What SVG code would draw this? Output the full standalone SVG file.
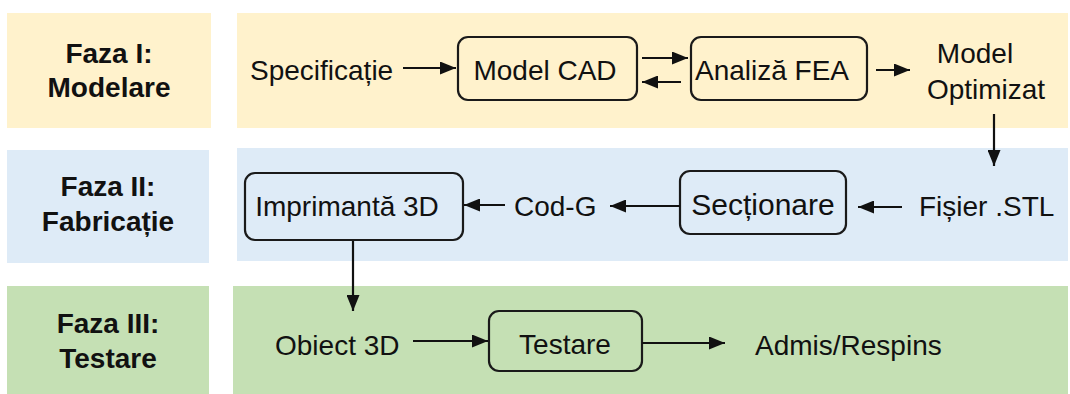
<svg xmlns="http://www.w3.org/2000/svg" width="1070" height="394" viewBox="0 0 1070 394">
<defs>
<style>
.lbl{font-family:"Liberation Sans",Arial,sans-serif;font-weight:bold;font-size:28px;fill:#111;text-anchor:middle}
.t{font-family:"Liberation Sans",Arial,sans-serif;font-size:28px;fill:#111}
.m{text-anchor:middle}
.box{fill:none;stroke:#1a1a1a;stroke-width:2.2}
.c line{stroke:#111;stroke-width:2.2;marker-end:url(#ah)}
.y{fill:#FFF2CC}.b{fill:#DEEBF7}.g{fill:#C5E0B4}
</style>
<marker id="ah" viewBox="0 0 16 13" markerWidth="16" markerHeight="13" refX="16" refY="6.5" orient="auto" markerUnits="userSpaceOnUse">
<path d="M0,0 L16,6.5 L0,13 Z" fill="#111"/>
</marker>
</defs>
<g id="bands">
<rect class="y" x="7" y="13" width="204" height="115"/>
<rect class="y" x="237" y="13" width="831" height="115"/>
<rect class="b" x="7" y="150" width="202" height="113"/>
<rect class="b" x="237" y="148" width="831" height="113"/>
<rect class="g" x="7" y="286" width="202" height="108"/>
<rect class="g" x="233" y="286" width="835" height="108"/>
</g>
<g id="phase1"><text class="lbl" x="109" y="63">Faza I:</text><text class="lbl" x="109" y="97">Modelare</text></g>
<g id="phase2"><text class="lbl" x="108" y="196">Faza II:</text><text class="lbl" x="108" y="231">Fabricație</text></g>
<g id="phase3"><text class="lbl" x="108" y="333">Faza III:</text><text class="lbl" x="108" y="368">Testare</text></g>
<g id="specificatie"><text class="t" x="250" y="80">Specificație</text></g>
<g id="model-cad"><rect class="box" x="458" y="37" width="179" height="63" rx="10"/><text class="t m" x="545" y="80">Model CAD</text></g>
<g id="analiza-fea"><rect class="box" x="691" y="37" width="176" height="63" rx="10"/><text class="t m" x="772" y="80">Analiză FEA</text></g>
<g id="model-optimizat"><text class="t m" x="975" y="63">Model</text><text class="t m" x="986" y="99">Optimizat</text></g>
<g id="fisier-stl"><text class="t" x="919" y="216">Fișier .STL</text></g>
<g id="sectionare"><rect class="box" x="680" y="171" width="166" height="63" rx="10"/><text class="t m" x="763" y="215" style="font-size:30px">Secționare</text></g>
<g id="cod-g"><text class="t" x="514" y="216">Cod-G</text></g>
<g id="imprimanta"><rect class="box" x="245" y="173" width="218" height="67" rx="10"/><text class="t m" x="347" y="216">Imprimantă 3D</text></g>
<g id="obiect-3d"><text class="t" x="275" y="355">Obiect 3D</text></g>
<g id="testare"><rect class="box" x="489" y="311" width="153" height="60" rx="10"/><text class="t m" x="565" y="354">Testare</text></g>
<g id="admis"><text class="t" x="755" y="355">Admis/Respins</text></g>
<g id="connectors" class="c">
<line x1="403" y1="68" x2="456" y2="68"/>
<line x1="642" y1="58" x2="688" y2="58"/>
<line x1="681" y1="82" x2="642" y2="82"/>
<line x1="876" y1="70" x2="910" y2="70"/>
<line x1="994" y1="114" x2="994" y2="166"/>
<line x1="902" y1="207" x2="858" y2="207"/>
<line x1="680" y1="206" x2="610" y2="206"/>
<line x1="505" y1="205" x2="464" y2="205"/>
<line x1="353" y1="241" x2="353" y2="311"/>
<line x1="413" y1="341" x2="488" y2="341"/>
<line x1="642" y1="343" x2="725" y2="343"/>
</g>
</svg>
